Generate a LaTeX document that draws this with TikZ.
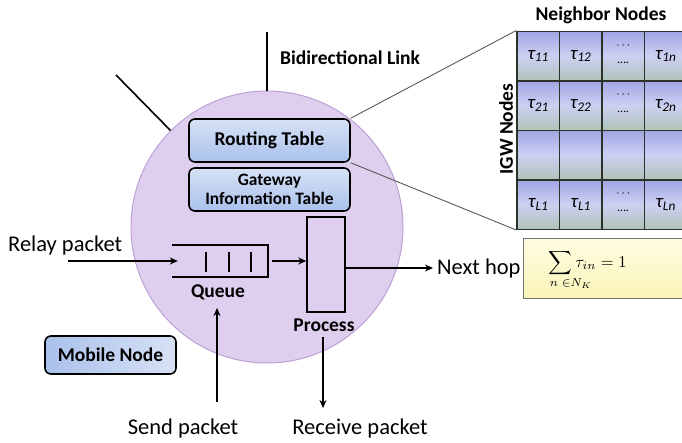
\documentclass[tikz,border=0pt]{standalone}
\usepackage{fontspec}
\setmainfont{Carlito}
\usetikzlibrary{arrows.meta,shapes.geometric}
\definecolor{circfill}{RGB}{222,207,238}
\definecolor{circdraw}{RGB}{190,160,215}
\definecolor{boxtop}{RGB}{215,225,245}
\definecolor{boxbot}{RGB}{170,193,235}
\definecolor{celltop}{RGB}{160,165,228}
\definecolor{cellmid}{RGB}{205,208,242}
\definecolor{cellbot}{RGB}{175,195,185}
\definecolor{celldraw}{RGB}{45,50,40}
\definecolor{yeltop}{RGB}{255,253,225}
\definecolor{yelbot}{RGB}{250,244,185}
\tikzset{
  lbl/.style={font=\fontsize{22.5}{24}\selectfont, inner sep=0pt},
  blbl/.style={font=\bfseries\fontsize{19.5}{21}\selectfont, inner sep=0pt},
  tbox/.style={draw=black, line width=1.6pt, rounded corners=6pt, top color=boxtop, bottom color=boxbot, minimum width=161pt, inner sep=0pt, align=center, font=\bfseries\fontsize{19.5}{20}\selectfont},
  cell/.style={draw=celldraw, line width=1.5pt, top color=celltop, bottom color=cellbot, middle color=cellmid, minimum width=42.5pt, minimum height=49.5pt, inner sep=0pt},
  tau/.style={font=\itshape\fontsize{19}{20}\selectfont},
  dotsn/.style={align=center, font=\fontsize{12}{10}\selectfont},
  link/.style={line width=1.6pt, black},
  arr/.style={line width=1.6pt, -{Stealth[length=8pt,width=7pt]}},
  thinl/.style={line width=0.9pt, black!65},
}
\begin{document}
\begin{tikzpicture}[x=1pt,y=-1pt]
\useasboundingbox (0,0) rectangle (682,442);
\clip (0,0) rectangle (682,442);
% main circle
\node[circle, draw=circdraw, line width=1pt, fill=circfill, minimum size=272pt, inner sep=0pt] (circ) at (267,227) {};
% bidirectional links
\coordinate (l1) at (267,32);
\coordinate (l2) at (116,75);
\draw[link] (circ.north) -- (l1);
\draw[link] (circ.135) -- (l2);
\node[blbl, anchor=west] (bidi) at (280,58) {Bidirectional Link};
% tables in node
\node[tbox, minimum height=43pt] (rt) at (269.5,140.5) {Routing Table};
\node[tbox, minimum height=43pt, font=\bfseries\fontsize{17.4}{19}\selectfont] (gw) at (269.5,189.5) {Gateway\\Information Table};
% neighbor table
\foreach \r/\y in {1/56,2/105.5,3/155,4/204.5}{
  \foreach \c/\x in {1/538.25,2/580.75,3/623.25,4/665.75}{
    \node[cell] (c\r\c) at (\x,\y) {};
  }
}
\node[tau] (t11) at (c11) {τ\textsubscript{11}};
\node[tau] (t12) at (c12) {τ\textsubscript{12}};
\node[dotsn] (d13) at ([yshift=3pt]c13) {$\cdots$\\[5pt]\dots.};
\node[tau] (t14) at (c14) {τ\textsubscript{1n}};
\node[tau] (t21) at (c21) {τ\textsubscript{21}};
\node[tau] (t22) at (c22) {τ\textsubscript{22}};
\node[dotsn] (d23) at ([yshift=3pt]c23) {$\cdots$\\[5pt]\dots.};
\node[tau] (t24) at (c24) {τ\textsubscript{2n}};
\node[tau] (t41) at (c41) {τ\textsubscript{L1}};
\node[tau] (t42) at (c42) {τ\textsubscript{L1}};
\node[dotsn] (d43) at ([yshift=3pt]c43) {$\cdots$\\[5pt]\dots.};
\node[tau] (t44) at (c44) {τ\textsubscript{Ln}};
\node[blbl] (nbr) at (601,15) {Neighbor Nodes};
\node[blbl, rotate=90] (igw) at (506,129) {IGW Nodes};
\draw[thinl] (rt.north east) -- (c11.north west);
\draw[thinl] (rt.south east) -- (c41.south west);
% formula box
\node[draw=black!55, line width=1pt, top color=yeltop, bottom color=yelbot, minimum width=170pt, minimum height=60pt, inner sep=0pt, anchor=north west] (form) at (523,238) {};
\node[anchor=north west, scale=1.65, transform shape] (formt) at (543,244) {$\displaystyle\sum_{\makebox[0pt][l]{$\scriptstyle\hspace{6.5pt}n\;\in N_K$}}\tau_{in}=1$};
% queue
\node[minimum width=96pt, minimum height=32pt, inner sep=0pt] (q) at (220,261) {};
\draw[line width=1.6pt] (q.north west) -- (q.north east) -- (q.south east) -- (q.south west);
\foreach \bx in {206,229,251}{\draw[line width=1.6pt] (\bx,252) -- (\bx,272);}
\node[blbl] (ql) at (218,292) {Queue};
% process
\node[draw=black, line width=1.6pt, minimum width=38pt, minimum height=95pt, inner sep=0pt] (proc) at (326,264.5) {};
\node[blbl] (pl) at (324,325) {Process};
% labels
\node[lbl, anchor=west] (relay) at (8,245) {Relay packet};
\coordinate (rs) at (68,261);
\node[lbl, anchor=west] (next) at (437,268) {Next hop};
\node[lbl] (send) at (183,428) {Send packet};
\coordinate (ss) at (217,402);
\node[lbl] (recv) at (360,428) {Receive packet};
\coordinate (re) at (323,408);
\coordinate (rstart) at (323,337);
% arrows
\draw[arr] (rs) -- ([xshift=6pt]q.west);
\draw[arr] ([xshift=4pt]q.east) -- (proc.west |- q.east);
\draw[arr] (proc.east |- next.west) -- ([xshift=-4pt]next.west);
\draw[arr] (ss) -- (217,308);
\draw[arr] (rstart) -- (re);
% mobile node
\node[draw=black, line width=1.6pt, rounded corners=6pt, left color=boxbot, right color=boxtop, minimum width=131pt, minimum height=38pt, inner sep=0pt, font=\bfseries\fontsize{19.5}{20}\selectfont] (mob) at (110.5,355) {Mobile Node};
\end{tikzpicture}
\end{document}
